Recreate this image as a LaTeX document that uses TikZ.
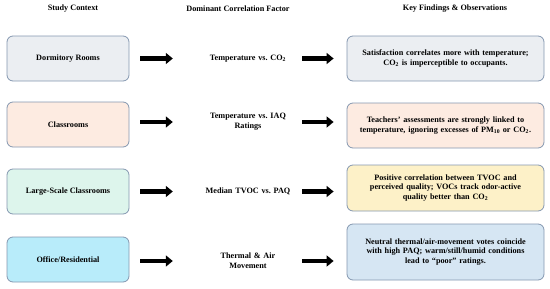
\documentclass[tikz,border=0pt]{standalone}
\usepackage{fontspec}
\setmainfont{Liberation Serif}
\usetikzlibrary{arrows.meta}
\frenchspacing
\definecolor{bordc}{HTML}{8497B0}
\definecolor{cgray}{HTML}{EBEEF2}
\definecolor{cpeach}{HTML}{FDEBE1}
\definecolor{cmint}{HTML}{DDF5EC}
\definecolor{ccyan}{HTML}{B8ECFA}
\definecolor{cyellow}{HTML}{FDF1C8}
\definecolor{cblue}{HTML}{D6E6F3}
\tikzset{
  every node/.style={font=\fontsize{8.2}{9.8}\selectfont\bfseries},
  header/.style={anchor=center},
  ctxbox/.style={draw=bordc, line width=0.8pt, rounded corners=6pt, minimum width=122pt, minimum height=45pt, align=center},
  findbox/.style={draw=bordc, line width=0.8pt, rounded corners=6pt, minimum width=197pt, text width=192pt, align=center, inner sep=0pt},
  factor/.style={text width=96pt, inner sep=2pt, align=center},
  bigarrow/.style={line width=4.2pt, -{Triangle[length=7pt,width=11pt]}},
}
\begin{document}
\begin{tikzpicture}[x=1pt,y=-1pt]
\useasboundingbox (0,0) rectangle (550,289);
\node[header] (h1) at (73,9) {Study Context};
\node[header] (h2) at (238,9) {Dominant Correlation Factor};
\node[header] (h3) at (455,9) {Key Findings \& Observations};

\node[ctxbox, fill=cgray] (l1) at (68,58.5) {Dormitory Rooms};
\node[ctxbox, fill=cpeach] (l2) at (68,124.5) {Classrooms};
\node[ctxbox, fill=cmint] (l3) at (68,191.5) {Large-Scale Classrooms};
\node[ctxbox, fill=ccyan] (l4) at (68,259.5) {Office/Residential};

\node[factor] (m1) at (248,58.5) {Temperature vs. CO\textsubscript{2}};
\node[factor] (m2) at (248,122) {Temperature vs. IAQ\\Ratings};
\node[factor] (m3) at (248,191.5) {Median TVOC vs. PAQ};
\node[factor] (m4) at (248,261) {Thermal \& Air\\Movement};

\node[findbox, fill=cgray, minimum height=45pt] (r1) at (445.5,58.5) {Satisfaction correlates more with temperature;\\CO\textsubscript{2} is imperceptible to occupants.};
\node[findbox, fill=cpeach, minimum height=45pt] (r2) at (445.5,125.5) {Teachers' assessments are strongly linked to\\temperature, ignoring excesses of PM\textsubscript{10} or CO\textsubscript{2}.};
\node[findbox, fill=cyellow, minimum height=46pt] (r3) at (445.5,188) {Positive correlation between TVOC and\\perceived quality; VOCs track odor-active\\quality better than CO\textsubscript{2}};
\node[findbox, fill=cblue, minimum height=56pt] (r4) at (445.5,252) {Neutral thermal/air-movement votes coincide\\with high PAQ; warm/still/humid conditions\\lead to ``poor'' ratings.};

\foreach \i in {1,...,4}{
  \draw[bigarrow, shorten <=11pt, shorten >=25pt] (l\i.east |- m\i.center) -- (m\i.west);
  \draw[bigarrow, shorten <=4pt, shorten >=13pt] (m\i.east) -- (r\i.west |- m\i.center);
}
\end{tikzpicture}
\end{document}
